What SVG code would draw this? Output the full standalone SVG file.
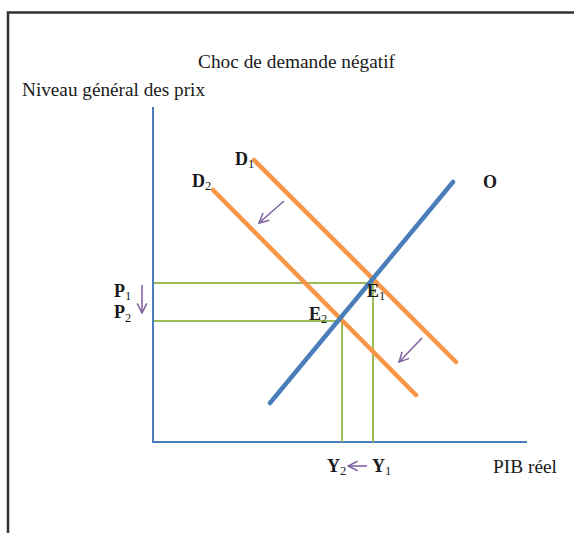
<svg xmlns="http://www.w3.org/2000/svg" width="574" height="533" viewBox="0 0 574 533">
<defs>
<style>
text{font-family:"Liberation Serif","Times New Roman",serif;fill:#1a1a1a}
.t{font-size:18px}
.b{font-size:18px;font-weight:bold}
.s{font-size:12.5px;font-weight:normal}
.axis{stroke:#4a7ebb;stroke-width:2;fill:none}
.guide{stroke:#9bbb59;stroke-width:2;fill:none}
.dem{stroke:#f79646;stroke-width:4.5;stroke-linecap:round;fill:none}
.sup{stroke:#4a7ebb;stroke-width:4.5;stroke-linecap:round;fill:none}
.arr{stroke:#8064a2;stroke-width:1.6;fill:none}
</style>
<marker id="ah" viewBox="0 0 10 10" refX="9" refY="5" markerWidth="12" markerHeight="12" orient="auto" markerUnits="userSpaceOnUse">
<path d="M1,1 L9,5 L1,9" fill="none" stroke="#8064a2" stroke-width="1.3"/>
</marker>
</defs>
<rect x="0" y="0" width="574" height="533" fill="#fff"/>
<path d="M8,540 L8,12.5 L580,12.5" fill="none" stroke="#333" stroke-width="2.5"/>
<g id="title"><text class="t" x="198" y="68" textLength="197" lengthAdjust="spacingAndGlyphs">Choc de demande négatif</text></g>
<g id="ylabel"><text class="t" x="22" y="96" textLength="183" lengthAdjust="spacingAndGlyphs">Niveau général des prix</text></g>
<g id="xlabel"><text class="t" x="493" y="473" textLength="64" lengthAdjust="spacingAndGlyphs">PIB réel</text></g>
<g id="connectors">
<path class="axis" d="M153,107 L153,442 L527,442"/>
<path class="guide" d="M154,283 L373,283 L373,442"/>
<path class="guide" d="M154,321 L342,321 L342,442"/>
<path class="dem" d="M254,160 L456,362"/>
<path class="dem" d="M213,190 L416,395"/>
<path class="sup" d="M270,403 L453,182"/>
<path class="arr" d="M284,201 L259,223" marker-end="url(#ah)"/>
<path class="arr" d="M422,338 L399,362" marker-end="url(#ah)"/>
<path class="arr" d="M142,285 L142,313" marker-end="url(#ah)"/>
<path class="arr" d="M367,466 L348,466" marker-end="url(#ah)"/>
</g>
<g id="D1"><text class="b" x="235" y="165">D<tspan class="s" dy="3">1</tspan></text></g>
<g id="D2"><text class="b" x="192" y="187">D<tspan class="s" dy="3">2</tspan></text></g>
<g id="O"><text class="b" x="483" y="188">O</text></g>
<g id="P1"><text class="b" x="114" y="297">P<tspan class="s" dy="3">1</tspan></text></g>
<g id="P2"><text class="b" x="114" y="318">P<tspan class="s" dy="4">2</tspan></text></g>
<g id="E1"><text class="b" x="367" y="297">E<tspan class="s" dy="3">1</tspan></text></g>
<g id="E2"><text class="b" x="309" y="320">E<tspan class="s" dy="3">2</tspan></text></g>
<g id="Y2"><text class="b" x="327" y="472">Y<tspan class="s" dy="3">2</tspan></text></g>
<g id="Y1"><text class="b" x="372" y="472">Y<tspan class="s" dy="3">1</tspan></text></g>
</svg>
